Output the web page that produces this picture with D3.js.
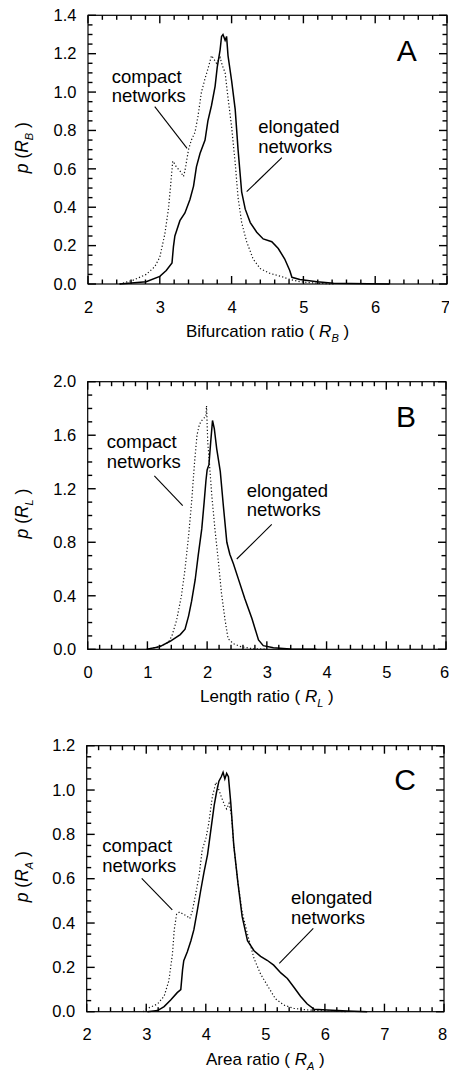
<!DOCTYPE html>
<html>
<head>
<meta charset="utf-8">
<script src="https://cdn.jsdelivr.net/npm/d3@7"></script>
<style>
  body { margin: 0; background: #fff; }
</style>
</head>
<body>
<svg id="chart" width="449" height="1074"></svg>
<script>
// ---- panel A : bifurcation ratio ----
const aXTicks = [2, 3, 4, 5, 6, 7];
const aYTicks = [0, 0.2, 0.4, 0.6, 0.8, 1.0, 1.2, 1.4];
const aCompactX = [2.44,2.63,2.81,2.93,3.0,3.07,3.12,3.15,3.18,3.2,3.23,3.28,3.33,3.35,3.4,3.44,3.49,3.53,3.58,3.63,3.67,3.72,3.74,3.79,3.84,3.87,3.91,3.95,4.0,4.05,4.09,4.14,4.21,4.30,4.40,4.53,4.70,4.81,4.95,5.19,5.42];
const aCompactY = [0,0.02,0.05,0.09,0.14,0.26,0.39,0.51,0.64,0.63,0.61,0.59,0.56,0.59,0.70,0.75,0.79,0.87,1.0,1.07,1.12,1.19,1.18,1.15,1.18,1.14,1.10,0.97,0.82,0.63,0.45,0.32,0.22,0.13,0.08,0.056,0.038,0.024,0.012,0.004,0];
const aElongX = [2.44,2.81,3.0,3.09,3.17,3.19,3.21,3.28,3.35,3.42,3.47,3.51,3.56,3.63,3.67,3.72,3.77,3.80,3.84,3.86,3.88,3.91,3.93,3.95,4.0,4.05,4.09,4.14,4.19,4.26,4.35,4.44,4.56,4.65,4.74,4.81,4.84,4.95,5.19,5.42,5.9,6.2];
const aElongY = [0,0.012,0.04,0.07,0.11,0.195,0.25,0.33,0.37,0.44,0.51,0.61,0.68,0.75,0.85,0.93,1.03,1.13,1.22,1.29,1.30,1.27,1.29,1.19,1.06,0.91,0.70,0.48,0.39,0.32,0.27,0.235,0.22,0.185,0.13,0.07,0.035,0.024,0.012,0.004,0.001,0];

// ---- panel B : length ratio ----
const bXTicks = [0, 1, 2, 3, 4, 5, 6];
const bYTicks = [0, 0.4, 0.8, 1.2, 1.6, 2.0];
const bCompactX = [0.99,1.21,1.35,1.41,1.49,1.57,1.63,1.69,1.74,1.79,1.83,1.87,1.91,1.95,1.98,1.99,2.01,2.04,2.08,2.13,2.19,2.24,2.30,2.35,2.44,2.55,2.72,3.0];
const bCompactY = [0,0.022,0.05,0.10,0.22,0.40,0.60,0.85,1.10,1.40,1.60,1.68,1.71,1.73,1.74,1.82,1.55,1.38,1.14,0.90,0.65,0.42,0.22,0.08,0.042,0.022,0.007,0];
const bElongX = [0.99,1.21,1.38,1.55,1.63,1.69,1.74,1.80,1.85,1.91,1.95,1.98,2.0,2.03,2.06,2.09,2.12,2.16,2.22,2.27,2.33,2.38,2.44,2.52,2.63,2.75,2.86,2.94,3.11,3.39,3.83];
const bElongY = [0,0.02,0.06,0.11,0.15,0.25,0.36,0.52,0.70,0.90,1.10,1.26,1.34,1.38,1.55,1.71,1.65,1.50,1.33,1.08,0.80,0.71,0.64,0.53,0.38,0.23,0.07,0.027,0.012,0.003,0];

// ---- panel C : area ratio ----
const cXTicks = [2, 3, 4, 5, 6, 7, 8];
const cYTicks = [0, 0.2, 0.4, 0.6, 0.8, 1.0, 1.2];
const cCompactX = [2.95,3.0,3.19,3.30,3.38,3.44,3.47,3.51,3.56,3.62,3.69,3.73,3.77,3.83,3.89,3.94,4.0,4.05,4.11,4.17,4.22,4.26,4.31,4.35,4.39,4.43,4.47,4.54,4.61,4.70,4.81,4.92,5.03,5.17,5.31,5.48,5.70,6.04,6.38];
const cCompactY = [0,0.012,0.035,0.07,0.14,0.26,0.37,0.44,0.45,0.44,0.43,0.42,0.45,0.53,0.62,0.73,0.78,0.85,0.97,1.035,1.0,0.97,0.935,0.915,0.94,0.89,0.75,0.58,0.45,0.35,0.24,0.17,0.12,0.058,0.03,0.015,0.008,0.003,0];
const cElongX = [3.02,3.19,3.30,3.41,3.52,3.58,3.61,3.63,3.69,3.75,3.80,3.86,3.91,3.97,4.03,4.08,4.14,4.18,4.22,4.26,4.29,4.32,4.35,4.38,4.42,4.47,4.54,4.61,4.70,4.81,4.92,5.03,5.14,5.26,5.37,5.48,5.59,5.70,5.82,6.04,6.38,6.71];
const cElongY = [0,0.005,0.023,0.053,0.086,0.10,0.19,0.23,0.27,0.32,0.37,0.46,0.54,0.63,0.71,0.81,0.93,0.99,1.04,1.06,1.08,1.05,1.075,1.06,0.94,0.75,0.58,0.43,0.32,0.275,0.25,0.232,0.21,0.175,0.15,0.11,0.07,0.036,0.011,0.008,0.003,0];

const zip = (xs, ys) => xs.map((v, i) => [v, ys[i]]);

const panels = [
  { letter: "A", title: "Bifurcation ratio", sub: "B",
    box: [88, 447, 15.3, 284],
    xTicks: aXTicks, yTicks: aYTicks, xMinor: 0.2, yMinor: 0.05,
    compact: zip(aCompactX, aCompactY), elong: zip(aElongX, aElongY),
    letterAt: [6.44, 1.164],
    compactAt: [2.33, 1.049], compactLine: [[2.93, 0.924], [3.38, 0.707]],
    elongAt: [4.37, 0.785], elongLine: [[4.70, 0.658], [4.21, 0.481]] },
  { letter: "B", title: "Length ratio", sub: "L",
    box: [87.7, 446, 381.7, 649.3],
    xTicks: bXTicks, yTicks: bYTicks, xMinor: 0.2, yMinor: 0.1,
    compact: zip(bCompactX, bCompactY), elong: zip(bElongX, bElongY),
    letterAt: [5.33, 1.664],
    compactAt: [0.318, 1.502], compactLine: [[1.116, 1.297], [1.591, 1.073]],
    elongAt: [2.663, 1.140], elongLine: [[3.082, 0.934], [2.496, 0.675]] },
  { letter: "C", title: "Area ratio", sub: "A",
    box: [86.7, 444, 745.7, 1011.7],
    xTicks: cXTicks, yTicks: cYTicks, xMinor: 0.2, yMinor: 0.05,
    compact: zip(cCompactX, cCompactY), elong: zip(cElongX, cElongY),
    letterAt: [7.345, 1.0],
    compactAt: [2.262, 0.719], compactLine: [[2.924, 0.602], [3.437, 0.459]],
    elongAt: [5.431, 0.486], elongLine: [[5.805, 0.376], [5.234, 0.218]] }
];

const FONT = "'Liberation Sans', Arial, Helvetica, sans-serif";
const svg = d3.select("#chart");

function minorTicks(ticks, step) {
  const lo = d3.min(ticks), hi = d3.max(ticks);
  return d3.range(Math.round((hi - lo) / step) + 1).map(i => +(lo + i * step).toFixed(4));
}

// frame ticks first, as small filled rects (inward, major long / minor short)
function drawTicks(p) {
  const [x0, x1, y0, y1] = p.box;
  const sx = d3.scaleLinear().domain(d3.extent(p.xTicks)).range([x0, x1]);
  const sy = d3.scaleLinear().domain(d3.extent(p.yTicks)).range([y1, y0]);
  const isMajor = (v, ticks) => ticks.some(t => Math.abs(t - v) < 1e-6);
  const w = 1.4;
  const tg = svg.append("g").attr("fill", "#000");
  tg.selectAll("rect.xb").data(minorTicks(p.xTicks, p.xMinor)).join("rect")
    .attr("x", d => sx(d) - w / 2).attr("width", w)
    .attr("y", d => y1 - (isMajor(d, p.xTicks) ? 8 : 4.5))
    .attr("height", d => isMajor(d, p.xTicks) ? 8 : 4.5);
  tg.selectAll("rect.xt").data(minorTicks(p.xTicks, p.xMinor)).join("rect")
    .attr("x", d => sx(d) - w / 2).attr("width", w)
    .attr("y", y0)
    .attr("height", d => isMajor(d, p.xTicks) ? 8 : 4.5);
  tg.selectAll("rect.yl").data(minorTicks(p.yTicks, p.yMinor)).join("rect")
    .attr("y", d => sy(d) - w / 2).attr("height", w)
    .attr("x", x0)
    .attr("width", d => isMajor(d, p.yTicks) ? 8 : 4.5);
  tg.selectAll("rect.yr").data(minorTicks(p.yTicks, p.yMinor)).join("rect")
    .attr("y", d => sy(d) - w / 2).attr("height", w)
    .attr("x", d => x1 - (isMajor(d, p.yTicks) ? 8 : 4.5))
    .attr("width", d => isMajor(d, p.yTicks) ? 8 : 4.5);
}

function drawPanel(p) {
  const [x0, x1, y0, y1] = p.box;
  const sx = d3.scaleLinear().domain(d3.extent(p.xTicks)).range([x0, x1]);
  const sy = d3.scaleLinear().domain(d3.extent(p.yTicks)).range([y1, y0]);
  const g = svg.append("g");

  g.append("rect")
    .attr("x", x0).attr("y", y0)
    .attr("width", x1 - x0).attr("height", y1 - y0)
    .attr("fill", "none").attr("stroke", "#000").attr("stroke-width", 1.2);

  // tick labels from the axes
  const xa = g.append("g").attr("transform", `translate(0,${y1})`)
    .call(d3.axisBottom(sx).tickValues(p.xTicks).tickSize(0).tickPadding(16.8).tickFormat(d3.format("d")));
  const ya = g.append("g").attr("transform", `translate(${x0},0)`)
    .call(d3.axisLeft(sy).tickValues(p.yTicks).tickSize(0).tickPadding(11.5).tickFormat(d3.format(".1f")));
  [xa, ya].forEach(a => {
    a.select(".domain").remove();
    a.selectAll(".tick line").remove();
    a.selectAll("text").attr("font-size", 16.5).attr("fill", "#000").attr("font-family", FONT);
  });
  xa.selectAll(".tick text").filter((d, i, n) => i === n.length - 1).attr("dx", -2);

  const line = d3.line().x(d => sx(d[0])).y(d => sy(d[1]));
  g.append("path").datum(p.compact)
    .attr("d", line).attr("fill", "none")
    .attr("stroke", "#111").attr("stroke-width", 1.2)
    .attr("stroke-dasharray", "1.2,2.2");
  g.append("path").datum(p.elong)
    .attr("d", line).attr("fill", "none")
    .attr("stroke", "#000").attr("stroke-width", 1.5);

  // annotations
  const note = (at, words) => {
    const t = g.append("text").attr("x", sx(at[0])).attr("y", sy(at[1]))
      .attr("font-size", 18.5).attr("font-family", FONT).attr("fill", "#000");
    t.append("tspan").text(words[0]);
    t.append("tspan").attr("x", sx(at[0])).attr("dy", 19.6).text(words[1]);
  };
  note(p.compactAt, ["compact", "networks"]);
  note(p.elongAt, ["elongated", "networks"]);
  [p.compactLine, p.elongLine].forEach(l => {
    g.append("line")
      .attr("x1", sx(l[0][0])).attr("y1", sy(l[0][1]))
      .attr("x2", sx(l[1][0])).attr("y2", sy(l[1][1]))
      .attr("stroke", "#000").attr("stroke-width", 1.1);
  });

  g.append("text")
    .attr("x", sx(p.letterAt[0])).attr("y", sy(p.letterAt[1]))
    .attr("text-anchor", "middle").attr("font-size", 30).attr("font-family", FONT)
    .text(p.letter);

  // x title
  const xt = g.append("text")
    .attr("x", (x0 + x1) / 2).attr("y", y1 + 53)
    .attr("text-anchor", "middle").attr("font-size", 17).attr("font-family", FONT);
  xt.append("tspan").text(p.title + " ( ");
  xt.append("tspan").attr("font-style", "italic").text("R");
  xt.append("tspan").attr("font-style", "italic").attr("font-size", 11).attr("dy", 5).text(p.sub);
  xt.append("tspan").attr("dy", -5).text(" )");

  // y title
  const yt = g.append("text")
    .attr("transform", `translate(28,${(y0 + y1) / 2 - 2}) rotate(-90)`)
    .attr("text-anchor", "middle").attr("font-size", 17.5).attr("font-family", FONT);
  yt.append("tspan").attr("font-style", "italic").text("p");
  yt.append("tspan").text(" (");
  yt.append("tspan").attr("font-style", "italic").text("R");
  yt.append("tspan").attr("font-style", "italic").attr("font-size", 11).attr("dy", 5).text(p.sub);
  yt.append("tspan").attr("dy", -5).text(" )");
}

panels.forEach(drawTicks);
panels.forEach(drawPanel);
</script>
</body>
</html>
